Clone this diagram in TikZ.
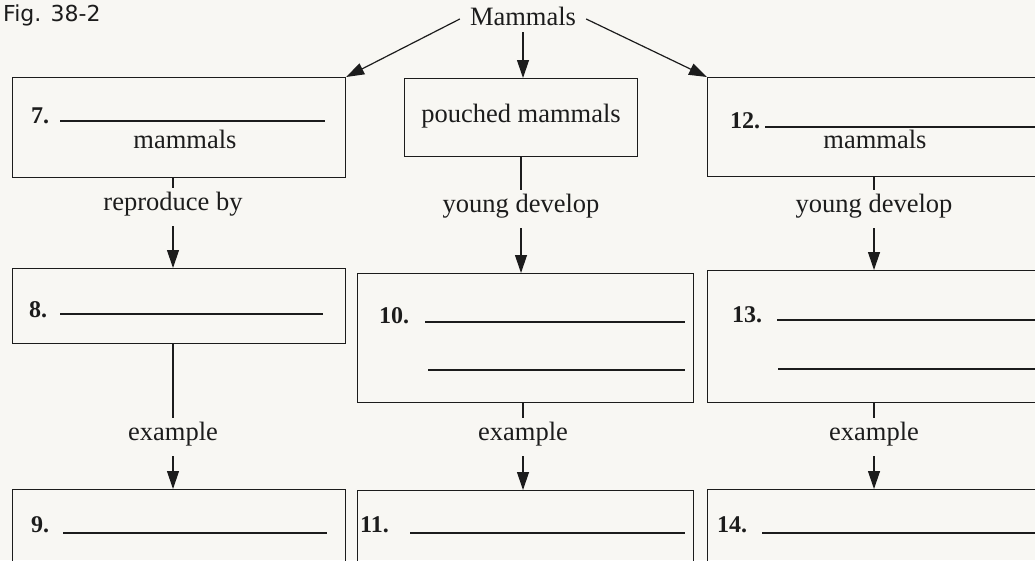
\documentclass[tikz,border=0pt]{standalone}
\usepackage{fontspec}
\setmainfont{Liberation Serif}
\newfontfamily\figfont{DejaVu Sans}
\usetikzlibrary{arrows.meta}
\definecolor{paper}{RGB}{248,247,243}
\definecolor{ink}{RGB}{28,28,28}
\begin{document}
\begin{tikzpicture}[x=1pt,y=-1pt,
  frame/.style={draw=ink, line width=1.2pt, inner sep=0pt, anchor=north west},
  word/.style={font=\fontsize{26.5}{30}\selectfont, text=ink, anchor=base,
               inner sep=0pt, text height=18pt, text depth=6pt},
  num/.style={font=\fontsize{24}{28}\selectfont\bfseries, text=ink,
              anchor=base west, inner sep=0pt},
  blank/.style={draw=ink, line width=1.3pt},
  link/.style={draw=ink, line width=1.2pt},
  arrow/.style={link, -{Triangle[length=18pt,width=12pt]}},
  stub/.style={link, shorten >=4pt},
  lead/.style={arrow, shorten <=10pt}
]
\fill[paper] (0,0) rectangle (1035,560);
\useasboundingbox (0,0) rectangle (1035,560);
\clip (0,0) rectangle (1035,560);

% title
\node[font=\figfont\fontsize{22}{26}\selectfont, text=ink, anchor=base west,
      inner sep=0pt] (fig) at (3,21) {Fig. 38-2};

% root
\node[word, inner xsep=10pt, inner ysep=1pt] (mam) at (523,25) {Mammals};

% boxes, row by row
\node[frame, minimum width=333pt, minimum height=100pt] (b7)  at (12,77)  {};
\node[frame, minimum width=233pt, minimum height=78pt]  (pm)  at (404,78) {};
\node[frame, minimum width=345pt, minimum height=99pt]  (b12) at (707,77) {};

\node[frame, minimum width=333pt, minimum height=75pt]  (b8)  at (12,268)  {};
\node[frame, minimum width=336pt, minimum height=129pt] (b10) at (357,273) {};
\node[frame, minimum width=345pt, minimum height=132pt] (b13) at (707,270) {};

\node[frame, minimum width=333pt, minimum height=100pt] (b9)  at (12,489)  {};
\node[frame, minimum width=336pt, minimum height=100pt] (b11) at (357,490) {};
\node[frame, minimum width=345pt, minimum height=100pt] (b14) at (707,489) {};

% box contents
\node[num] (n7) at (31,123) {7.};
\draw[blank] (60,121) -- (325,121);
\node[word] (m7) at (185,148) {mammals};

\node[word] (pmt) at (521,122) {pouched mammals};

\node[num] (n12) at (730,128) {12.};
\draw[blank] (765,127) -- (1040,127);
\node[word] (m12) at (875,148) {mammals};

\node[num] (n8) at (29,317) {8.};
\draw[blank] (60,314) -- (323,314);

\node[num] (n10) at (379,323) {10.};
\draw[blank] (425,322) -- (685,322);
\draw[blank] (428,370) -- (685,370);

\node[num] (n13) at (732,322) {13.};
\draw[blank] (777,320) -- (1040,320);
\draw[blank] (778,369) -- (1040,369);

\node[num] (n9) at (31,532) {9.};
\draw[blank] (63,533) -- (327,533);

\node[num] (n11) at (360,532) {11.};
\draw[blank] (410,533) -- (685,533);

\node[num] (n14) at (717,532) {14.};
\draw[blank] (762,533) -- (1040,533);

% link labels
\node[word] (rb)  at (173,210) {reproduce by};
\node[word] (yd2) at (521,212) {young develop};
\node[word] (yd3) at (874,212) {young develop};
\node[word] (ex1) at (173,440) {example};
\node[word] (ex2) at (523,440) {example};
\node[word] (ex3) at (874,440) {example};

% connectors from the root
\draw[arrow] (mam.west) -- (b7.north east);
\draw[arrow] (mam.south) -- (mam.south |- pm.north);
\draw[arrow] (mam.east) -- (b12.north west);

% first level to second level
\draw[stub] (rb.north |- b7.south) -- (rb.north);
\draw[lead] (rb.south) -- (rb.south |- b8.north);
\draw[stub] (yd2.north |- pm.south) -- (yd2.north);
\draw[lead] (yd2.south) -- (yd2.south |- b10.north);
\draw[stub] (yd3.north |- b12.south) -- (yd3.north);
\draw[lead] (yd3.south) -- (yd3.south |- b13.north);

% second level to third level
\draw[stub] (ex1.north |- b8.south) -- (ex1.north);
\draw[lead] (ex1.south) -- (ex1.south |- b9.north);
\draw[stub] (ex2.north |- b10.south) -- (ex2.north);
\draw[lead] (ex2.south) -- (ex2.south |- b11.north);
\draw[stub] (ex3.north |- b13.south) -- (ex3.north);
\draw[lead] (ex3.south) -- (ex3.south |- b14.north);
\end{tikzpicture}
\end{document}
